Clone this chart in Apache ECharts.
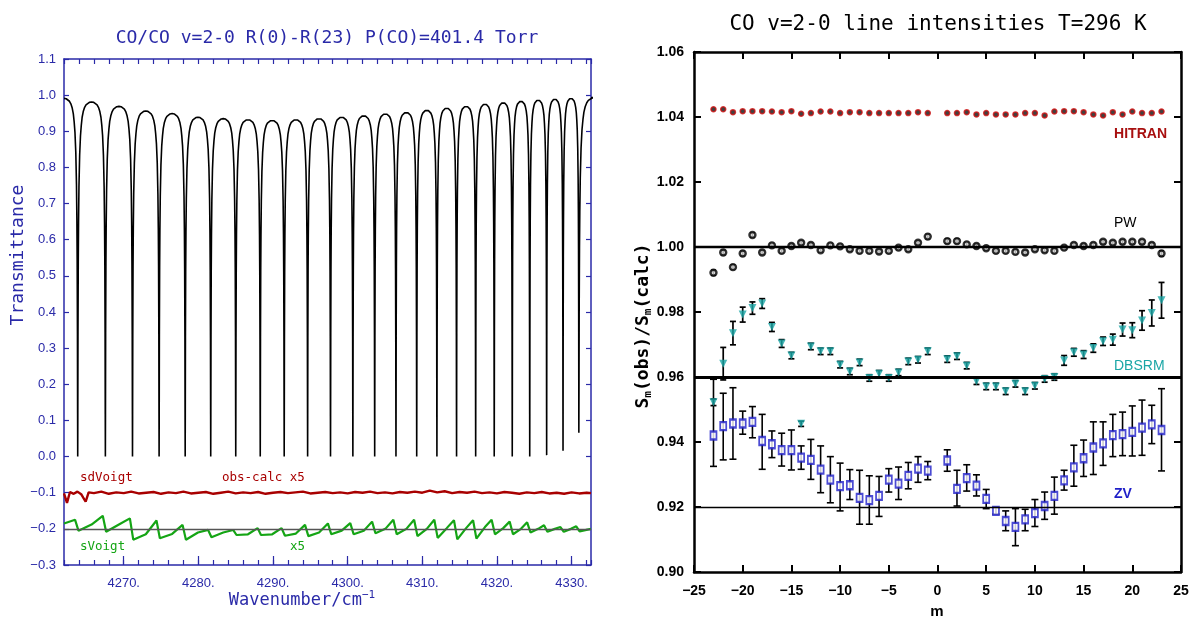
<!DOCTYPE html>
<html><head><meta charset="utf-8">
<script src="https://cdn.jsdelivr.net/npm/echarts@6/dist/echarts.min.js"></script>
<style>html,body{margin:0;padding:0;background:#fff}#c{width:1193px;height:624px}</style>
</head><body><div id="c"></div>
<script>
// ================= LEFT PANEL DATA (spectrum) =================
const wnMin = 4262.0, wnMax = 4332.6;
const wnTickLabels = [4270, 4280, 4290, 4300, 4310, 4320, 4330];
// R(0)..R(23) line centres (cm-1)
const lineCenters = [4263.837, 4267.542, 4271.177, 4274.741, 4278.234, 4281.657, 4285.009, 4288.290,
  4291.499, 4294.637, 4297.704, 4300.699, 4303.622, 4306.473, 4309.251, 4311.957, 4314.590, 4317.150,
  4319.637, 4322.051, 4324.392, 4326.659, 4328.852, 4330.972];
// transmittance at each line centre
const lineMinima = [0,0,0,0,0,0,0,0,0,0,0,0,0,0,0,0,0,0,0,0,0,0.004,0.016,0.066];
// transmittance at top of each arch: left edge, between R(i-1)/R(i), right edge
const archPeaks = [0.991, 0.981, 0.969, 0.956, 0.949, 0.939, 0.935, 0.932, 0.930, 0.932, 0.935, 0.939,
  0.943, 0.948, 0.952, 0.958, 0.964, 0.969, 0.975, 0.979, 0.983, 0.986, 0.989, 0.991, 0.993];
// shape of one arch: fraction of line spacing -> fraction of arch height
const profU   = [0, 0.004, 0.01, 0.02, 0.03, 0.045, 0.07, 0.10, 0.13, 0.16, 0.20, 0.25, 0.30, 0.35, 0.42, 0.50];
const profRel = [0, 0.12, 0.35, 0.55, 0.66, 0.76, 0.85, 0.905, 0.935, 0.957, 0.973, 0.985, 0.992, 0.996, 0.999, 1];
// residuals (x5): sdVoigt (red) around -0.1
const redResidual = [[4262,-0.102],[4262.4,-0.128],[4262.8,-0.098],[4263.3,-0.103],[4263.8,-0.097],[4264.3,-0.104],
  [4264.9,-0.125],[4265.3,-0.099],[4266,-0.101],[4267,-0.097],[4268,-0.103],[4269,-0.099],[4270,-0.101],[4271,-0.097],
  [4272,-0.102],[4273,-0.100],[4274,-0.098],[4275,-0.103],[4276,-0.099],[4277,-0.101],[4278,-0.097],[4279,-0.102],
  [4280,-0.100],[4281,-0.098],[4282,-0.103],[4283,-0.100],[4284,-0.097],[4285,-0.102],[4286,-0.099],[4287,-0.101],
  [4288,-0.098],[4289,-0.103],[4290,-0.100],[4291,-0.098],[4292,-0.101],[4293,-0.099],[4294,-0.097],[4295,-0.102],
  [4296,-0.100],[4297,-0.098],[4298,-0.101],[4299,-0.099],[4300,-0.102],[4301,-0.098],[4302,-0.100],[4303,-0.097],
  [4304,-0.101],[4305,-0.099],[4306,-0.102],[4307,-0.098],[4308,-0.100],[4309,-0.097],[4310,-0.100],[4311,-0.094],
  [4312,-0.099],[4313,-0.096],[4314,-0.101],[4315,-0.098],[4316,-0.100],[4317,-0.097],[4318,-0.101],[4319,-0.099],
  [4320,-0.102],[4321,-0.098],[4322,-0.100],[4323,-0.103],[4324,-0.099],[4325,-0.101],[4326,-0.098],[4327,-0.102],
  [4328,-0.100],[4329,-0.103],[4330,-0.099],[4331,-0.102],[4332,-0.100],[4332.6,-0.101]];
// sVoigt (green) residual: value at start, peak before each line, dip after each line, level between lines
const greenStart = -0.185;
const greenPeak = [-0.175,-0.164,-0.171,-0.177,-0.189,-0.203,-0.203,-0.198,-0.198,-0.189,-0.185,-0.184,
  -0.180,-0.175,-0.175,-0.175,-0.176,-0.176,-0.175,-0.180,-0.182,-0.190,-0.195,-0.193];
const greenDip = [-0.205,-0.208,-0.230,-0.226,-0.230,-0.223,-0.217,-0.217,-0.219,-0.220,-0.215,-0.215,
  -0.212,-0.215,-0.220,-0.225,-0.229,-0.227,-0.215,-0.215,-0.210,-0.208,-0.208,-0.207];
const greenMid = [-0.188,-0.188,-0.215,-0.214,-0.210,-0.210,-0.215,-0.215,-0.213,-0.210,-0.205,-0.205,
  -0.200,-0.200,-0.200,-0.198,-0.198,-0.195,-0.198,-0.200,-0.200,-0.200,-0.200,-0.200];

// ================= RIGHT PANEL DATA (line intensities) =================
const mValues = [-23,-22,-21,-20,-19,-18,-17,-16,-15,-14,-13,-12,-11,-10,-9,-8,-7,-6,-5,-4,-3,-2,-1,
  1,2,3,4,5,6,7,8,9,10,11,12,13,14,15,16,17,18,19,20,21,22,23];
const hitran = [1.0424,1.0424,1.0415,1.0418,1.0418,1.0418,1.0417,1.0415,1.0418,1.0410,1.0412,1.0417,1.0417,
  1.0412,1.0415,1.0415,1.0412,1.0412,1.0412,1.0412,1.0412,1.0415,1.0412,
  1.0412,1.0412,1.0415,1.0408,1.0412,1.0408,1.0408,1.0408,1.0412,1.0412,1.0405,1.0417,1.0418,1.0418,
  1.0415,1.0408,1.0405,1.0415,1.0408,1.0417,1.0412,1.0412,1.0417];
const pw = [0.9921,0.9983,0.9938,0.9980,1.0037,0.9983,1.0005,0.9988,1.0003,1.0013,1.0006,0.9990,1.0005,
  1.0002,0.9993,0.9988,0.9988,0.9986,0.9988,0.9998,0.9993,1.0013,1.0032,
  1.0018,1.0018,1.0008,1.0003,0.9996,0.9988,0.9988,0.9985,0.9983,0.9993,0.9990,0.9988,0.9998,1.0006,
  1.0003,1.0006,1.0016,1.0013,1.0016,1.0016,1.0016,1.0006,0.9980];
const pwErr = [0.0008,0.0007,0.0007,0.0007,0.0007,0.0006,0.0006,0.0006,0.0006,0.0006,0.0006,0.0006,0.0006,
  0.0006,0.0006,0.0006,0.0006,0.0006,0.0006,0.0006,0.0006,0.0006,0.0007,
  0.0007,0.0007,0.0006,0.0006,0.0006,0.0006,0.0006,0.0006,0.0006,0.0006,0.0006,0.0006,0.0006,0.0006,
  0.0006,0.0006,0.0006,0.0006,0.0006,0.0006,0.0006,0.0006,0.0008];
const dbsrm = [0.9522,0.9641,0.9735,0.9792,0.9812,0.9826,0.9754,0.9703,0.9666,0.9456,0.9694,0.9679,0.9679,
  0.9638,0.9617,0.9645,0.9597,0.9610,0.9597,0.9614,0.9648,0.9653,0.9679,
  0.9655,0.9664,0.9635,0.9587,0.9571,0.9571,0.9556,0.9579,0.9556,0.9573,0.9594,0.9600,0.9651,0.9676,
  0.9669,0.9689,0.9710,0.9715,0.9746,0.9744,0.9774,0.9797,0.9836];
const dbsrmErr = [0.0010,0.0050,0.0036,0.0023,0.0019,0.0015,0.0014,0.0012,0.0010,0.0008,0.0010,0.0010,0.0010,
  0.0010,0.0010,0.0010,0.0010,0.0010,0.0010,0.0010,0.0010,0.0010,0.0010,
  0.0010,0.0010,0.0010,0.0010,0.0010,0.0010,0.0010,0.0010,0.0010,0.0010,0.0010,0.0010,0.0015,0.0012,
  0.0012,0.0013,0.0013,0.0017,0.0020,0.0023,0.0030,0.0040,0.0055];
const zv = [0.9420,0.9449,0.9457,0.9457,0.9462,0.9403,0.9393,0.9375,0.9375,0.9352,0.9345,0.9315,0.9284,
  0.9264,0.9267,0.9228,0.9221,0.9234,0.9284,0.9272,0.9296,0.9318,0.9312,
  0.9343,0.9256,0.9289,0.9266,0.9225,0.9188,0.9157,0.9139,0.9162,0.9181,0.9203,0.9234,0.9282,0.9322,
  0.9350,0.9383,0.9396,0.9421,0.9424,0.9431,0.9444,0.9454,0.9437];
const zvLow = [0.9325,0.9345,0.9347,0.9424,0.9413,0.9316,0.9352,0.9326,0.9314,0.9316,0.9285,0.9244,0.9213,
  0.9188,0.9223,0.9147,0.9147,0.9171,0.9246,0.9223,0.9256,0.9276,0.9284,
  0.9310,0.9203,0.9249,0.9234,0.9195,0.9178,0.9127,0.9081,0.9127,0.9140,0.9162,0.9178,0.9252,0.9264,
  0.9294,0.9300,0.9328,0.9355,0.9358,0.9357,0.9359,0.9395,0.9311];
const zvHigh = [0.9593,0.9550,0.9567,0.9495,0.9509,0.9485,0.9434,0.9427,0.9437,0.9388,0.9408,0.9388,0.9355,
  0.9335,0.9315,0.9313,0.9296,0.9294,0.9318,0.9323,0.9337,0.9355,0.9340,
  0.9376,0.9313,0.9330,0.9299,0.9254,0.9198,0.9188,0.9195,0.9193,0.9223,0.9246,0.9292,0.9313,0.9390,
  0.9406,0.9462,0.9462,0.9485,0.9492,0.9511,0.9529,0.9513,0.9564];
const refLines = [1.00, 0.96, 0.92];

// ================= build tables =================
const spectrum = [];
(function(){
  const n = lineCenters.length;
  const g0 = 2 * (lineCenters[0] - wnMin);
  for (let k = profU.length - 1; k >= 0; k--)
    spectrum.push([lineCenters[0] - profU[k] * g0, lineMinima[0] + (archPeaks[0] - lineMinima[0]) * profRel[k]]);
  for (let i = 0; i < n - 1; i++) {
    const xa = lineCenters[i], xb = lineCenters[i + 1], ma = lineMinima[i], mb = lineMinima[i + 1], p = archPeaks[i + 1];
    for (let k = 1; k < profU.length; k++) spectrum.push([xa + profU[k] * (xb - xa), ma + (p - ma) * profRel[k]]);
    for (let k = profU.length - 2; k >= 0; k--) spectrum.push([xb - profU[k] * (xb - xa), mb + (p - mb) * profRel[k]]);
  }
  const xl = lineCenters[n - 1], ml = lineMinima[n - 1], pl = archPeaks[n], gl = 2 * (lineCenters[n - 1] - lineCenters[n - 2]);
  for (let k = 1; k < profU.length; k++) spectrum.push([xl + profU[k] * gl, ml + (pl - ml) * profRel[k]]);
  spectrum.push([wnMax, pl]);
})();
const greenResidual = [[wnMin, greenStart]];
lineCenters.forEach((c, i) => {
  greenResidual.push([c - 0.35, greenPeak[i]]);
  greenResidual.push([c + 0.1, greenDip[i]]);
  const nx = i < lineCenters.length - 1 ? (c + lineCenters[i + 1]) / 2 : wnMax;
  greenResidual.push([nx, greenMid[i]]);
});
const zip = (a) => mValues.map((m, i) => [m, a[i]]);
const errPW = mValues.map((m, i) => [m, pw[i] - pwErr[i], pw[i] + pwErr[i]]);
const errDB = mValues.map((m, i) => [m, dbsrm[i] - dbsrmErr[i], dbsrm[i] + dbsrmErr[i]]);
const errZV = mValues.map((m, i) => [m, zvLow[i], zvHigh[i]]);

function errRender(capW, lw) {
  return function (params, api) {
    const x = api.value(0), lo = api.value(1), hi = api.value(2);
    const a = api.coord([x, hi]), b = api.coord([x, lo]);
    const st = { stroke: '#000', lineWidth: lw };
    return { type: 'group', children: [
      { type: 'line', shape: { x1: a[0], y1: a[1], x2: b[0], y2: b[1] }, style: st },
      { type: 'line', shape: { x1: a[0] - capW, y1: a[1], x2: a[0] + capW, y2: a[1] }, style: st },
      { type: 'line', shape: { x1: b[0] - capW, y1: b[1], x2: b[0] + capW, y2: b[1] }, style: st }
    ]};
  };
}

const BLUE = '#2a2aa8';
const MONO = '"DejaVu Sans Mono", "Liberation Mono", monospace';
const SANS = '"Liberation Sans", Arial, sans-serif';
const minus = (s) => s.replace('-', '\u2212');
const blueLine = { onZero: false, lineStyle: { color: BLUE, width: 1.5 } };
const blackLine = { onZero: false, lineStyle: { color: '#000', width: 2.5 } };

const chart = echarts.init(document.getElementById('c'), null, { renderer: 'canvas' });
chart.setOption({
  animation: false,
  backgroundColor: '#fff',
  grid: [
    { left: 64, top: 59, width: 527, height: 506 },
    { left: 694, top: 52, width: 487, height: 520 }
  ],
  xAxis: [
    { gridIndex: 0, type: 'value', min: wnMin, max: wnMax, interval: 2, position: 'bottom',
      axisLine: blueLine,
      axisTick: { inside: true, length: 5, lineStyle: { color: BLUE, width: 1.2 } },
      axisLabel: { customValues: wnTickLabels, formatter: (v) => v + '.', color: BLUE, fontFamily: SANS, fontSize: 13, margin: 12 },
      splitLine: { show: false } },
    { gridIndex: 0, type: 'value', min: wnMin, max: wnMax, position: 'bottom',
      axisLine: { show: false, onZero: false },
      axisTick: { customValues: wnTickLabels, inside: true, length: 9, lineStyle: { color: BLUE, width: 1.2 } },
      axisLabel: { show: false }, splitLine: { show: false } },
    { gridIndex: 0, type: 'value', min: wnMin, max: wnMax, interval: 2, position: 'top',
      axisLine: blueLine,
      axisTick: { inside: true, length: 5, lineStyle: { color: BLUE, width: 1.2 } },
      axisLabel: { show: false }, splitLine: { show: false } },
    { gridIndex: 1, type: 'value', min: -25, max: 25, interval: 5, position: 'bottom',
      axisLine: blackLine,
      axisTick: { inside: true, length: 7, lineStyle: { color: '#000', width: 2 } },
      axisLabel: { formatter: (v) => minus(String(v)), color: '#000', fontFamily: SANS, fontWeight: 'bold', fontSize: 14, margin: 12 },
      splitLine: { show: false } },
    { gridIndex: 1, type: 'value', min: -25, max: 25, interval: 5, position: 'top',
      axisLine: blackLine,
      axisTick: { inside: true, length: 7, lineStyle: { color: '#000', width: 2 } },
      axisLabel: { show: false }, splitLine: { show: false } }
  ],
  yAxis: [
    { gridIndex: 0, type: 'value', min: -0.3, max: 1.1, interval: 0.1, position: 'left',
      axisLine: blueLine,
      axisTick: { inside: true, length: 5, lineStyle: { color: BLUE, width: 1.2 } },
      axisLabel: { formatter: (v) => minus(v.toFixed(1)), color: BLUE, fontFamily: SANS, fontSize: 13, margin: 8 },
      splitLine: { show: false } },
    { gridIndex: 0, type: 'value', min: -0.3, max: 1.1, interval: 0.1, position: 'right',
      axisLine: blueLine,
      axisTick: { inside: true, length: 5, lineStyle: { color: BLUE, width: 1.2 } },
      axisLabel: { show: false }, splitLine: { show: false } },
    { gridIndex: 1, type: 'value', min: 0.90, max: 1.06, interval: 0.02, position: 'left',
      axisLine: blackLine,
      axisTick: { inside: true, length: 7, lineStyle: { color: '#000', width: 2 } },
      axisLabel: { formatter: (v) => v.toFixed(2), color: '#000', fontFamily: SANS, fontWeight: 'bold', fontSize: 14, margin: 10 },
      splitLine: { show: false } },
    { gridIndex: 1, type: 'value', min: 0.90, max: 1.06, interval: 0.02, position: 'right',
      axisLine: blackLine,
      axisTick: { inside: true, length: 7, lineStyle: { color: '#000', width: 2 } },
      axisLabel: { show: false }, splitLine: { show: false } }
  ],
  series: [
    { name: 'spectrum', type: 'line', xAxisIndex: 0, yAxisIndex: 0, data: spectrum, symbol: 'none',
      lineStyle: { color: '#000', width: 1.6 }, z: 3 },
    { name: 'sdVoigt', type: 'line', xAxisIndex: 0, yAxisIndex: 0, data: redResidual, symbol: 'none',
      lineStyle: { color: '#a80000', width: 2.4 }, z: 3 },
    { name: 'sVoigt', type: 'line', xAxisIndex: 0, yAxisIndex: 0, data: greenResidual, symbol: 'none',
      lineStyle: { color: '#14a514', width: 2.2 }, z: 3,
      markLine: { silent: true, symbol: 'none', label: { show: false },
        lineStyle: { color: '#555', width: 1.3, type: 'solid' },
        data: [{ yAxis: -0.2 }] } },
    { name: 'refRight', type: 'line', xAxisIndex: 3, yAxisIndex: 2, data: [],
      markLine: { silent: true, symbol: 'none', label: { show: false },
        lineStyle: { color: '#000', type: 'solid' },
        data: [{ yAxis: refLines[0], lineStyle: { width: 2.4 } }, { yAxis: refLines[1], lineStyle: { width: 3 } },
               { yAxis: refLines[2], lineStyle: { width: 1.3 } }] } },
    { name: 'HITRAN', type: 'scatter', xAxisIndex: 3, yAxisIndex: 2, data: zip(hitran), symbol: 'circle', symbolSize: 5,
      itemStyle: { color: '#111', borderColor: '#d01010', borderWidth: 1.5 }, z: 4 },
    { name: 'PWerr', type: 'custom', xAxisIndex: 3, yAxisIndex: 2, data: errPW, renderItem: errRender(2.5, 1.5),
      encode: { x: 0, y: [1, 2] }, z: 3 },
    { name: 'PW', type: 'scatter', xAxisIndex: 3, yAxisIndex: 2, data: zip(pw), symbol: 'circle', symbolSize: 6,
      itemStyle: { color: '#ddd', borderColor: '#000', borderWidth: 2.4 }, z: 4 },
    { name: 'DBSRMerr', type: 'custom', xAxisIndex: 3, yAxisIndex: 2, data: errDB, renderItem: errRender(3, 1.7),
      encode: { x: 0, y: [1, 2] }, z: 3 },
    { name: 'DBSRM', type: 'scatter', xAxisIndex: 3, yAxisIndex: 2, data: zip(dbsrm), symbol: 'triangle', symbolRotate: 180,
      symbolSize: 8, itemStyle: { color: '#1aa6a6' }, z: 4 },
    { name: 'ZVerr', type: 'custom', xAxisIndex: 3, yAxisIndex: 2, data: errZV, renderItem: errRender(3.5, 1.6),
      encode: { x: 0, y: [1, 2] }, z: 3 },
    { name: 'ZV', type: 'scatter', xAxisIndex: 3, yAxisIndex: 2, data: zip(zv), symbol: 'rect', symbolSize: [6, 8],
      itemStyle: { color: '#fff', borderColor: '#1e1ec8', borderWidth: 2 }, z: 4 }
  ],
  graphic: [
    { type: 'text', x: 327, y: 38, style: { text: 'CO/CO v=2-0 R(0)-R(23) P(CO)=401.4 Torr', fill: BLUE,
      font: '18px ' + MONO, align: 'center', verticalAlign: 'middle' } },
    { type: 'text', x: 18, y: 255, rotation: Math.PI / 2, style: { text: 'Transmittance', fill: BLUE,
      font: '18px ' + MONO, align: 'center', verticalAlign: 'middle' } },
    { type: 'text', x: 302, y: 601, style: { text: '{a|Wavenumber/cm}{s|\u22121}', align: 'center', verticalAlign: 'middle',
      rich: { a: { fill: BLUE, font: '17px ' + MONO, lineHeight: 22 }, s: { fill: BLUE, font: '11px ' + MONO, verticalAlign: 'top', lineHeight: 22 } } } },
    { type: 'text', x: 80, y: 478, style: { text: 'sdVoigt', fill: '#a80000', font: '12.5px ' + MONO, verticalAlign: 'middle' } },
    { type: 'text', x: 222, y: 478, style: { text: 'obs-calc x5', fill: '#a80000', font: '12.5px ' + MONO, verticalAlign: 'middle' } },
    { type: 'text', x: 80, y: 547, style: { text: 'sVoigt', fill: '#14a514', font: '12.5px ' + MONO, verticalAlign: 'middle' } },
    { type: 'text', x: 290, y: 547, style: { text: 'x5', fill: '#14a514', font: '12.5px ' + MONO, verticalAlign: 'middle' } },
    { type: 'text', x: 938, y: 25, style: { text: 'CO v=2-0 line intensities T=296 K', fill: '#000',
      font: '21px ' + MONO, align: 'center', verticalAlign: 'middle' } },
    { type: 'text', x: 937, y: 612, style: { text: 'm', fill: '#000', font: 'bold 15px ' + SANS, align: 'center', verticalAlign: 'middle' } },
    { type: 'text', x: 643, y: 326, rotation: Math.PI / 2, style: { text: '{a|S}{s|m}{a|(obs)/S}{s|m}{a|(calc)}',
      align: 'center', verticalAlign: 'middle',
      rich: { a: { fill: '#000', font: 'bold 18px ' + MONO, lineHeight: 22 }, s: { fill: '#000', font: 'bold 11px ' + MONO, verticalAlign: 'bottom', lineHeight: 22 } } } },
    { type: 'text', x: 1167, y: 134, style: { text: 'HITRAN', fill: '#a81010', font: 'bold 14px ' + SANS, align: 'right', verticalAlign: 'middle' } },
    { type: 'text', x: 1114, y: 223, style: { text: 'PW', fill: '#000', font: '14px ' + SANS, verticalAlign: 'middle' } },
    { type: 'text', x: 1114, y: 366, style: { text: 'DBSRM', fill: '#1aa6a6', font: '14px ' + SANS, verticalAlign: 'middle' } },
    { type: 'text', x: 1114, y: 494, style: { text: 'ZV', fill: '#1e1ec8', font: 'bold 14px ' + SANS, verticalAlign: 'middle' } }
  ]
});
</script>
</body></html>
